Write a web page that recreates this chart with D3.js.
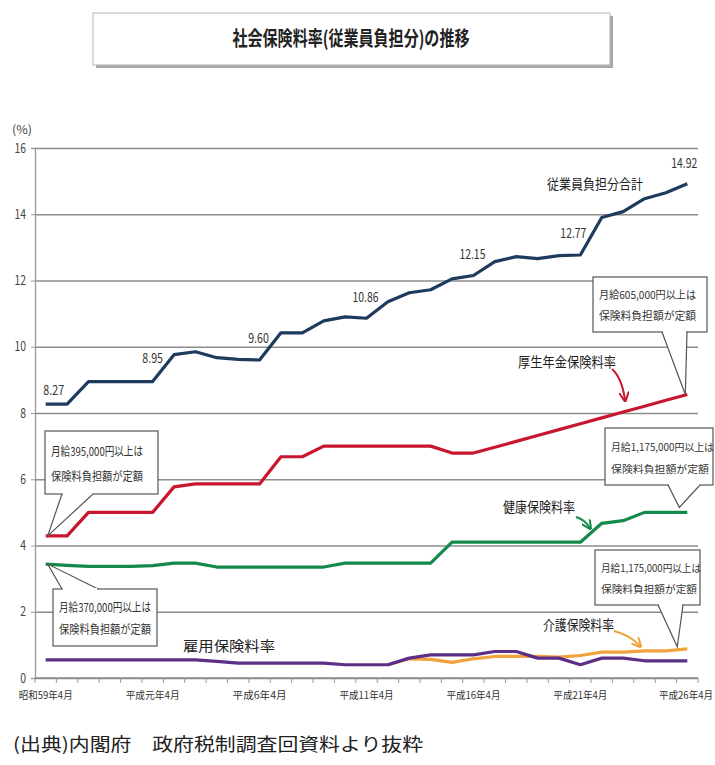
<!DOCTYPE html>
<html><head><meta charset="utf-8">
<script src="https://cdn.jsdelivr.net/npm/d3@7"></script>
<style>
body{margin:0;background:#fff;}
svg{display:block;}
text{font-family:"Noto Sans CJK JP","Noto Sans",sans-serif;}
</style></head>
<body>
<script>
// ---------- data ----------
const categories = ["昭和59年4月","昭和60年4月","昭和61年4月","昭和62年4月","昭和63年4月","平成元年4月","平成2年4月","平成3年4月","平成4年4月","平成5年4月","平成6年4月","平成7年4月","平成8年4月","平成9年4月","平成10年4月","平成11年4月","平成12年4月","平成13年4月","平成14年4月","平成15年4月","平成16年4月","平成17年4月","平成18年4月","平成19年4月","平成20年4月","平成21年4月","平成22年4月","平成23年4月","平成24年4月","平成25年4月","平成26年4月"];
const xTickLabels = ["昭和59年4月","平成元年4月","平成6年4月","平成11年4月","平成16年4月","平成21年4月","平成26年4月"];
const yTicks = [0,2,4,6,8,10,12,14,16];

const totalRate   = [8.27,8.27,8.95,8.95,8.95,8.95,9.76,9.85,9.67,9.62,9.60,10.42,10.42,10.78,10.90,10.86,11.36,11.63,11.72,12.05,12.15,12.57,12.72,12.66,12.75,12.77,13.90,14.08,14.47,14.65,14.92];
const pensionRate = [4.29,4.29,5.00,5.00,5.00,5.00,5.77,5.86,5.86,5.86,5.86,6.68,6.68,7.00,7.00,7.00,7.00,7.00,7.00,6.79,6.79,6.967,7.144,7.321,7.498,7.675,7.852,8.029,8.206,8.383,8.56];
const healthRate  = [3.44,3.40,3.37,3.37,3.37,3.39,3.47,3.47,3.35,3.35,3.35,3.35,3.35,3.35,3.47,3.47,3.47,3.47,3.47,4.10,4.10,4.10,4.10,4.10,4.10,4.10,4.67,4.75,5.00,5.00,5.00];
const employRate  = [0.55,0.55,0.55,0.55,0.55,0.55,0.55,0.55,0.50,0.45,0.45,0.45,0.45,0.45,0.40,0.40,0.40,0.60,0.70,0.70,0.70,0.80,0.80,0.60,0.60,0.40,0.60,0.60,0.52,0.52,0.52];
const careRate    = [null,null,null,null,null,null,null,null,null,null,null,null,null,null,null,null,0.40,0.58,0.56,0.47,0.58,0.65,0.65,0.65,0.63,0.68,0.78,0.78,0.82,0.82,0.88];

const valueLabels = [ // [category index, text, dx, dy]
  [0,"8.27",8,-14],[5,"8.95",0,-24],[10,"9.60",-1,-22],[15,"10.86",-1,-21],
  [20,"12.15",-1,-22],[25,"12.77",-7,-22],[30,"14.92",-3,-21]
];

// ---------- setup ----------
const W=715,H=765;
const svg=d3.select("body").append("svg").attr("width",W).attr("height",H);
const x=d3.scaleBand().domain(categories).range([35,698]);
const cx=c=>x(c)+x.bandwidth()/2;
const y=d3.scaleLinear().domain([0,16]).range([678,148]);

// title box
svg.append("rect").attr("x",96).attr("y",16).attr("width",517).attr("height",52).attr("fill","#a8a8a8");
svg.append("rect").attr("x",93).attr("y",13).attr("width",517).attr("height",52).attr("fill","#fff").attr("stroke","#b5b5b5").attr("stroke-width",1);
svg.append("text").attr("x",351).attr("y",46).attr("text-anchor","middle")
  .attr("font-size",20).attr("font-weight","bold").attr("fill","#222")
  .attr("textLength",237).attr("lengthAdjust","spacingAndGlyphs")
  .text("社会保険料率(従業員負担分)の推移");

// grid
const grid=svg.append("g").attr("transform","translate(35,0)")
  .call(d3.axisLeft(y).tickValues(yTicks).tickSize(-663).tickFormat(""));
grid.select(".domain").remove();
grid.selectAll("line").attr("stroke","#8c8c8c").attr("stroke-width",1.3);

// y axis
const ya=svg.append("g").attr("transform","translate(35,0)")
  .call(d3.axisLeft(y).tickValues(yTicks).tickSize(4).tickPadding(5));
ya.select(".domain").attr("stroke","#9a9a9a").attr("stroke-width",1.3);
ya.selectAll("line").attr("stroke","#9a9a9a");
ya.selectAll(".tick text").attr("font-size",13).attr("fill","#444")
  .attr("font-family","'DejaVu Sans Condensed','DejaVu Sans',sans-serif")
  .attr("transform","scale(0.8,1)").attr("x",-9/0.8);
svg.append("text").attr("x",12).attr("y",134).attr("font-size",12).attr("fill","#444")
  .attr("textLength",20).attr("lengthAdjust","spacingAndGlyphs").text("(%)");

// x axis line
svg.append("line").attr("x1",35).attr("x2",698).attr("y1",y(0)).attr("y2",y(0)).attr("stroke","#8c8c8c").attr("stroke-width",1.3);
// boundary ticks
const bounds=categories.map(c=>x(c)).concat([x.range()[1]]);
svg.append("g").selectAll("line").data(bounds).join("line")
  .attr("x1",d=>d).attr("x2",d=>d).attr("y1",y(0)).attr("y2",y(0)+5)
  .attr("stroke","#999");
// x labels
const xa=svg.append("g").attr("transform",`translate(0,${y(0)})`)
  .call(d3.axisBottom(x).tickValues(xTickLabels).tickSize(0).tickPadding(14));
xa.select(".domain").remove();
xa.selectAll("text").attr("font-size",10).attr("fill","#333")
  .attr("textLength",54).attr("lengthAdjust","spacingAndGlyphs");
xa.selectAll("text").filter(d=>d===xTickLabels[xTickLabels.length-1])
  .attr("text-anchor","end").attr("x",713-cx(xTickLabels[xTickLabels.length-1]));

// lines
const line=d3.line().defined(d=>d.v!=null).x(d=>cx(d.c)).y(d=>y(d.v));
const series=[
  {vals:careRate,color:"#f2a23c"},
  {vals:employRate,color:"#5b2f86"},
  {vals:healthRate,color:"#138a4c"},
  {vals:pensionRate,color:"#c8162f"},
  {vals:totalRate,color:"#1e3a5c"}
];
series.forEach(s=>{
  svg.append("path").datum(categories.map((c,i)=>({c,v:s.vals[i]})))
    .attr("d",line).attr("fill","none").attr("stroke",s.color)
    .attr("stroke-width",3.2).attr("stroke-linejoin","round");
});

// value labels
svg.append("g").selectAll("text").data(valueLabels).join("text")
  .attr("x",d=>cx(categories[d[0]])+d[2]).attr("y",d=>y(totalRate[d[0]])+d[3]+5)
  .attr("text-anchor","middle").attr("font-size",13).attr("fill","#333")
  .attr("textLength",d=>d[1].length*5.2).attr("lengthAdjust","spacingAndGlyphs")
  .text(d=>d[1]);

// series labels
function label(t,xp,yp,len,size){
  svg.append("text").attr("x",xp).attr("y",yp).attr("font-size",size||14).attr("fill","#222")
    .attr("textLength",len).attr("lengthAdjust","spacingAndGlyphs").text(t);
}
label("従業員負担分合計",547,189,96);
label("厚生年金保険料率",518,367,98);
label("健康保険料率",503,512,72);
label("雇用保険料率",183,651,92);
label("介護保険料率",543,630,71);

// callouts
function callout(bx,by,bw,bh,lines,tip,p1,p2,tw,fs,up){
  const edge = up ? by : by+bh;
  svg.append("path").attr("d",`M${p1},${edge} L${tip[0]},${tip[1]} L${p2},${edge}`)
    .attr("fill","#fff").attr("stroke","#555").attr("stroke-width",1.2);
  svg.append("rect").attr("x",bx).attr("y",by).attr("width",bw).attr("height",bh)
    .attr("fill","#fff").attr("stroke","#555").attr("stroke-width",1.2);
  svg.append("path").attr("d",`M${p1+1},${edge} L${p2-1},${edge}`).attr("stroke","#fff").attr("stroke-width",2);
  lines.forEach((t,i)=>{
    svg.append("text").attr("x",bx+6).attr("y",by+bh*0.40+i*bh*0.39)
      .attr("font-size",fs).attr("fill","#333")
      .attr("textLength",tw[i]).attr("lengthAdjust","spacingAndGlyphs").text(t);
  });
}
const last=categories.length-1;
callout(593,277,114,55,["月給605,000円以上は","保険料負担額が定額"],
  [cx(categories[last])-2,y(pensionRate[last])],662,687,[97,97],11,false);
callout(45,431,113,63,["月給395,000円以上は","保険料負担額が定額"],
  [cx(categories[0])+2,y(pensionRate[0])],62,93,[92,92],12,false);
callout(53,589,104,57,["月給370,000円以上は","保険料負担額が定額"],
  [cx(categories[0])+2,y(healthRate[0])],62,98,[92,92],12,true);
callout(605,428,108,57,["月給1,175,000円以上は","保険料負担額が定額"],
  [cx(categories[last])-8,y(healthRate[last])-5],668,700,[103,98],10,false);
callout(595,550,105,55,["月給1,175,000円以上は","保険料負担額が定額"],
  [cx(categories[last])-10,y(careRate[last])-2],658,683,[100,96],10.5,false);

// arrows
const defs=svg.append("defs");
[["ar","#c8162f"],["ag","#138a4c"],["ao","#f2a23c"]].forEach(([id,c])=>{
  defs.append("marker").attr("id",id).attr("viewBox","0 0 10 10").attr("refX",8).attr("refY",5)
    .attr("markerWidth",5).attr("markerHeight",5).attr("orient","auto")
    .append("path").attr("d","M0,0 L10,5 L0,10").attr("fill","none").attr("stroke",c).attr("stroke-width",2);
});
svg.append("path").attr("d","M612,369 Q622,378 625,400").attr("fill","none").attr("stroke","#c8162f").attr("stroke-width",2).attr("marker-end","url(#ar)");
svg.append("path").attr("d","M576,517 Q584,519 590,528").attr("fill","none").attr("stroke","#138a4c").attr("stroke-width",2).attr("marker-end","url(#ag)");
svg.append("path").attr("d","M614,631 Q630,635 640,646").attr("fill","none").attr("stroke","#f2a23c").attr("stroke-width",2).attr("marker-end","url(#ao)");

// footer
svg.append("text").attr("x",13).attr("y",751).attr("font-size",18).attr("fill","#222")
  .attr("textLength",410).attr("lengthAdjust","spacingAndGlyphs")
  .text("(出典)内閣府　政府税制調査回資料より抜粋");
</script>
</body></html>
